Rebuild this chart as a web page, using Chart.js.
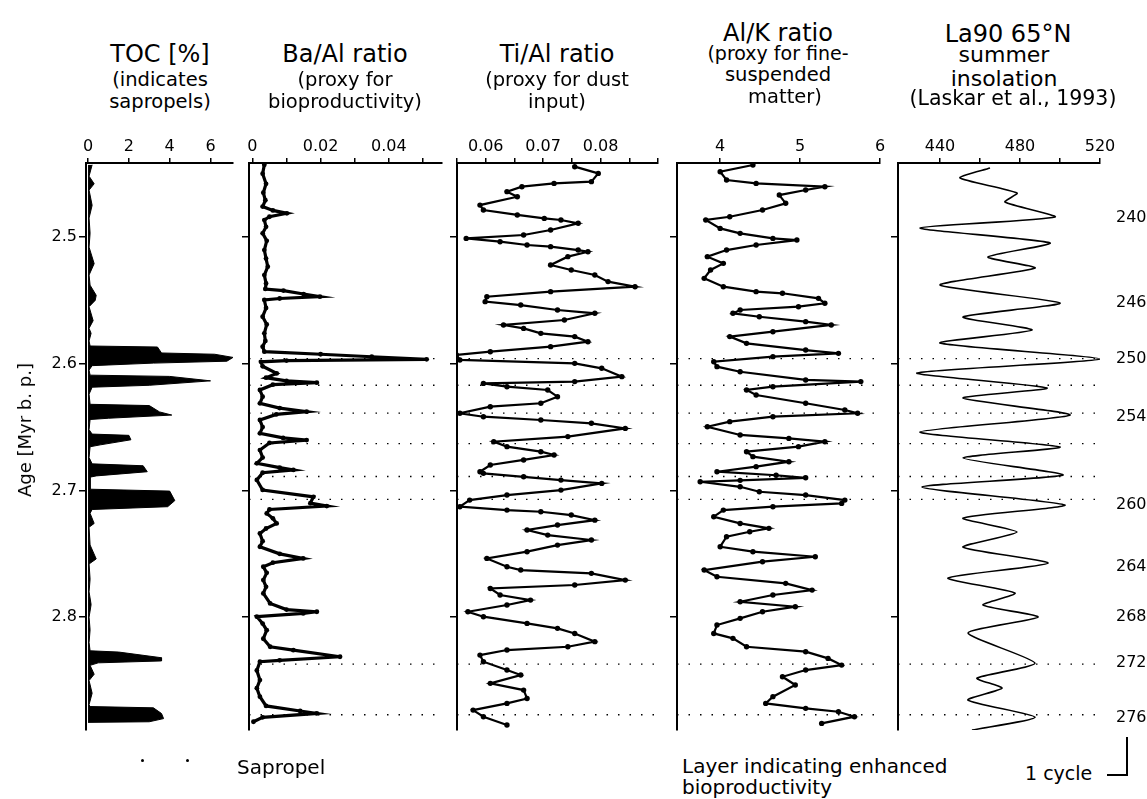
<!DOCTYPE html>
<html>
<head>
<meta charset="utf-8">
<title>Geochemical proxies and La90 insolation</title>
<script src="https://cdn.jsdelivr.net/npm/chart.js@4.4.0/dist/chart.umd.min.js"></script>
<style>
  html, body { margin: 0; padding: 0; background: #fff; }
  #page { position: relative; width: 1147px; height: 799px; overflow: hidden; background: #fff; }
  #page canvas { position: absolute; }
  .txt { position: absolute; white-space: nowrap; line-height: 1; color: #000;
         font-family: "DejaVu Sans", "Liberation Sans", sans-serif; }
  .dot { position: absolute; width: 3px; height: 3px; background: #000; border-radius: 50%; }
  .bar { position: absolute; background: #000; }
</style>
</head>
<body>
<div id="page">
  <canvas id="tocChart"></canvas>
  <canvas id="baChart"></canvas>
  <canvas id="tiChart"></canvas>
  <canvas id="alkChart"></canvas>
  <canvas id="insolChart"></canvas>
</div>
<script>
// 年代軸（Myr b.p.）
const ageTicks = [2.5, 2.6, 2.7, 2.8];
const ageTickLabels = ['2.5', '2.6', '2.7', '2.8'];

// TOC [%]
const tocAge = [2.443, 2.452, 2.458, 2.463, 2.475, 2.485, 2.497, 2.508, 2.521, 2.530,
  2.538, 2.546, 2.550, 2.555, 2.566, 2.572, 2.576, 2.582, 2.586, 2.5868,
  2.5915, 2.5925, 2.595, 2.598, 2.5995, 2.6015, 2.605, 2.609, 2.610, 2.6135,
  2.617, 2.6185, 2.624, 2.632, 2.633, 2.638, 2.6405, 2.643, 2.644, 2.652,
  2.6555, 2.6565, 2.660, 2.664, 2.6655, 2.674, 2.679, 2.6805, 2.6852, 2.6885,
  2.6895, 2.699, 2.7005, 2.708, 2.7128, 2.715, 2.718, 2.726, 2.729, 2.743,
  2.754, 2.758, 2.770, 2.780, 2.790, 2.800, 2.810, 2.820, 2.8265, 2.8275,
  2.832, 2.8345, 2.836, 2.838, 2.845, 2.850, 2.860, 2.869, 2.8705, 2.8715,
  2.876, 2.880, 2.8825, 2.883];
const tocValue = [0.2, 0.05, 0.3, 0.05, 0.2, 0.05, 0.1, 0.05, 0.3, 0.05,
  0.1, 0.4, 0.35, 0.05, 0.25, 0.05, 0.15, 0.05, 0.1, 3.4,
  3.6, 6.2, 7.1, 6.8, 3.2, 0.2, 0.05, 0.1, 4.0, 6.0,
  3.0, 0.2, 0.05, 0.1, 3.0, 3.5, 4.1, 1.0, 0.1, 0.05,
  0.2, 2.0, 2.1, 0.6, 0.1, 0.05, 0.2, 2.7, 2.9, 0.4,
  0.1, 0.1, 4.0, 4.25, 3.9, 0.2, 0.1, 0.3, 0.05, 0.1,
  0.4, 0.05, 0.1, 0.05, 0.15, 0.05, 0.1, 0.05, 0.1, 1.5,
  3.6, 3.6, 0.5, 0.1, 0.3, 0.05, 0.2, 0.05, 0.1, 3.2,
  3.6, 3.7, 3.0, 0];
const tocTicks = [0, 2, 4, 6];
const tocTickLabels = ['0', '2', '4', '6'];

// Ba/Al ratio
const baAge = [2.443, 2.450, 2.458, 2.465, 2.471, 2.476, 2.479, 2.4813, 2.484, 2.4866,
  2.492, 2.4971, 2.503, 2.5103, 2.517, 2.5234, 2.530, 2.5366, 2.541, 2.5423,
  2.545, 2.5471, 2.5485, 2.5497, 2.556, 2.5629, 2.569, 2.576, 2.582, 2.5865,
  2.5905, 2.5925, 2.5945, 2.5965, 2.5975, 2.5985, 2.602, 2.6076, 2.611, 2.6135,
  2.6149, 2.6165, 2.6207, 2.626, 2.6312, 2.635, 2.6378, 2.640, 2.6444, 2.650,
  2.6549, 2.6585, 2.6602, 2.6625, 2.6681, 2.674, 2.6786, 2.682, 2.6838, 2.686,
  2.6917, 2.6996, 2.705, 2.710, 2.7123, 2.715, 2.7181, 2.722, 2.726, 2.730,
  2.7339, 2.740, 2.7444, 2.750, 2.7536, 2.757, 2.7602, 2.765, 2.7707, 2.776,
  2.7812, 2.7891, 2.794, 2.7957, 2.797, 2.7996, 2.805, 2.8102, 2.817, 2.8233,
  2.826, 2.8312, 2.834, 2.8351, 2.842, 2.8496, 2.856, 2.8627, 2.870, 2.874,
  2.8759, 2.879, 2.8825];
const baValue = [0.0035, 0.0030, 0.0040, 0.0032, 0.0038, 0.0030, 0.0060, 0.0101, 0.0050, 0.0035,
  0.0040, 0.0030, 0.0042, 0.0035, 0.0040, 0.0045, 0.0035, 0.0040, 0.0038, 0.0091,
  0.0150, 0.0198, 0.0080, 0.0035, 0.0040, 0.0030, 0.0042, 0.0035, 0.0038, 0.0030,
  0.0035, 0.0200, 0.0350, 0.0511, 0.0100, 0.0025, 0.0030, 0.0071, 0.0040, 0.0100,
  0.0189, 0.0060, 0.0022, 0.0030, 0.0022, 0.0080, 0.0159, 0.0070, 0.0022, 0.0030,
  0.0022, 0.0090, 0.0159, 0.0050, 0.0022, 0.0030, 0.0013, 0.0080, 0.0120, 0.0030,
  0.0013, 0.0030, 0.0179, 0.0170, 0.0218, 0.0050, 0.0042, 0.0060, 0.0071, 0.0040,
  0.0022, 0.0030, 0.0022, 0.0080, 0.0149, 0.0060, 0.0032, 0.0042, 0.0032, 0.0040,
  0.0032, 0.0052, 0.0100, 0.0189, 0.0149, 0.0013, 0.0030, 0.0042, 0.0032, 0.0052,
  0.0120, 0.0257, 0.0080, 0.0022, 0.0013, 0.0022, 0.0013, 0.0022, 0.0040, 0.0140,
  0.0189, 0.0030, 0.0003];
const baTicks = [0, 0.01, 0.02, 0.03, 0.04, 0.05];
const baTickLabels = ['0', '', '0.02', '', '0.04', ''];

// Ti/Al ratio
const tiAge = [2.4445, 2.4498, 2.4563, 2.4577, 2.4603, 2.4642, 2.4682, 2.4748, 2.4787, 2.4826,
  2.4853, 2.4866, 2.4892, 2.4945, 2.4984, 2.5011, 2.5037, 2.5063, 2.5076, 2.5103,
  2.5116, 2.5155, 2.5221, 2.5260, 2.5300, 2.5352, 2.5392, 2.5431, 2.5471, 2.5510,
  2.5537, 2.5576, 2.5602, 2.5655, 2.5694, 2.5721, 2.5760, 2.5786, 2.5826, 2.5865,
  2.5905, 2.5931, 2.5970, 2.5997, 2.6036, 2.6102, 2.6141, 2.6155, 2.6181, 2.6207,
  2.6260, 2.6312, 2.6339, 2.6391, 2.6418, 2.6444, 2.6470, 2.6510, 2.6575, 2.6615,
  2.6654, 2.6694, 2.6720, 2.6759, 2.6799, 2.6852, 2.6865, 2.6892, 2.6918, 2.6944,
  2.6997, 2.7036, 2.7076, 2.7128, 2.7155, 2.7168, 2.7194, 2.7234, 2.7273, 2.7312,
  2.7352, 2.7391, 2.7431, 2.7483, 2.7536, 2.7602, 2.7628, 2.7654, 2.7707, 2.7746,
  2.7773, 2.7825, 2.7865, 2.7904, 2.7957, 2.7996, 2.8049, 2.8088, 2.8128, 2.8193,
  2.8233, 2.8259, 2.8299, 2.8351, 2.8417, 2.8456, 2.8522, 2.8575, 2.8641, 2.8680,
  2.8733, 2.8785, 2.8851];
const tiValue = [0.0755, 0.0796, 0.0784, 0.0719, 0.0663, 0.0637, 0.0655, 0.0590, 0.0596, 0.0655,
  0.0702, 0.0731, 0.0761, 0.0713, 0.0666, 0.0566, 0.0625, 0.0672, 0.0713, 0.0761,
  0.0778, 0.0743, 0.0713, 0.0749, 0.0790, 0.0813, 0.0860, 0.0713, 0.0602, 0.0599,
  0.0661, 0.0725, 0.0790, 0.0737, 0.0631, 0.0666, 0.0696, 0.0755, 0.0778, 0.0713,
  0.0608, 0.0549, 0.0555, 0.0755, 0.0802, 0.0837, 0.0755, 0.0596, 0.0637, 0.0708,
  0.0725, 0.0696, 0.0608, 0.0555, 0.0596, 0.0696, 0.0784, 0.0843, 0.0743, 0.0614,
  0.0637, 0.0696, 0.0719, 0.0666, 0.0608, 0.0590, 0.0596, 0.0666, 0.0731, 0.0802,
  0.0731, 0.0637, 0.0572, 0.0555, 0.0637, 0.0696, 0.0749, 0.0790, 0.0725, 0.0672,
  0.0708, 0.0784, 0.0725, 0.0672, 0.0602, 0.0637, 0.0661, 0.0784, 0.0843, 0.0755,
  0.0608, 0.0625, 0.0678, 0.0637, 0.0569, 0.0596, 0.0672, 0.0725, 0.0755, 0.0790,
  0.0743, 0.0637, 0.0590, 0.0596, 0.0637, 0.0661, 0.0608, 0.0666, 0.0672, 0.0637,
  0.0578, 0.0596, 0.0637];
const tiTicks = [0.055, 0.06, 0.065, 0.07, 0.075, 0.08, 0.085, 0.09];
const tiTickLabels = ['', '0.06', '', '0.07', '', '0.08', '', ''];

// Al/K ratio
const alkAge = [2.4432, 2.4485, 2.4550, 2.4577, 2.4603, 2.4629, 2.4669, 2.4734, 2.4787, 2.4840,
  2.4866, 2.4932, 2.4971, 2.5011, 2.5024, 2.5063, 2.5103, 2.5155, 2.5208, 2.5260,
  2.5326, 2.5392, 2.5431, 2.5444, 2.5484, 2.5523, 2.5550, 2.5576, 2.5602, 2.5629,
  2.5668, 2.5694, 2.5747, 2.5786, 2.5839, 2.5892, 2.5918, 2.5944, 2.5984, 2.6023,
  2.6063, 2.6128, 2.6141, 2.6181, 2.6207, 2.6247, 2.6312, 2.6365, 2.6391, 2.6418,
  2.6457, 2.6497, 2.6562, 2.6589, 2.6615, 2.6654, 2.6694, 2.6733, 2.6773, 2.6812,
  2.6852, 2.6880, 2.6900, 2.6920, 2.6931, 2.6971, 2.7010, 2.7036, 2.7076, 2.7102,
  2.7128, 2.7155, 2.7207, 2.7260, 2.7299, 2.7326, 2.7365, 2.7444, 2.7483, 2.7523,
  2.7562, 2.7628, 2.7681, 2.7733, 2.7786, 2.7825, 2.7878, 2.7917, 2.7957, 2.8009,
  2.8062, 2.8128, 2.8167, 2.8233, 2.8272, 2.8325, 2.8378, 2.8417, 2.8470, 2.8535,
  2.8627, 2.8680, 2.8719, 2.8746, 2.8785, 2.8838];
const alkValue = [4.41, 4.00, 4.08, 4.45, 5.31, 5.07, 4.74, 4.82, 4.53, 4.12,
  3.82, 4.00, 4.25, 4.66, 4.96, 4.45, 4.08, 3.84, 4.04, 3.88,
  3.80, 4.04, 4.45, 4.78, 5.23, 5.31, 4.98, 4.25, 4.16, 4.49,
  5.07, 5.39, 4.66, 4.12, 4.33, 5.07, 5.48, 4.66, 3.92, 3.96,
  4.25, 5.07, 5.76, 4.66, 4.33, 4.45, 5.07, 5.56, 5.72, 4.66,
  4.12, 3.84, 4.25, 4.86, 5.31, 4.98, 4.33, 4.41, 4.86, 4.45,
  3.96, 4.70, 5.07, 4.25, 3.75, 4.25, 4.49, 5.07, 5.56, 5.52,
  4.66, 4.04, 3.92, 4.25, 4.61, 4.37, 4.08, 4.00, 4.41, 5.19,
  4.53, 3.80, 3.96, 4.82, 5.15, 4.66, 4.25, 4.94, 4.53, 4.25,
  3.96, 3.92, 4.16, 4.33, 5.07, 5.35, 5.52, 5.07, 4.78, 4.94,
  4.66, 4.57, 5.07, 5.48, 5.68, 5.27];
const alkTicks = [4, 5, 6];
const alkTickLabels = ['4', '5', '6'];

// La90 65°N 夏季日射量
const insolAge = [2.4455, 2.4534, 2.4653, 2.4724, 2.4842, 2.4929, 2.5047, 2.5158, 2.5245, 2.5379,
  2.5521, 2.5631, 2.5734, 2.5837, 2.5963, 2.6073, 2.6192, 2.6271, 2.6405, 2.6539,
  2.6657, 2.6744, 2.6878, 2.6973, 2.7115, 2.7218, 2.7328, 2.7447, 2.7573, 2.7691,
  2.7810, 2.7904, 2.7999, 2.8125, 2.8362, 2.8481, 2.8560, 2.8654, 2.8789, 2.8891];
const insolValue = [465, 450, 478.5, 472.5, 497.5, 430, 495, 464, 487.5, 440,
  500, 451.5, 486, 440, 520, 428.5, 493.5, 451.5, 505, 430,
  500, 451.5, 501.5, 431, 502.5, 451.5, 478.5, 451.5, 494, 444,
  477.5, 461.5, 489, 454, 487.5, 458.5, 471, 454, 487.5, 456];
const insolTicks = [440, 460, 480, 500, 520];
const insolTickLabels = ['440', '', '480', '', '520'];

// サプロペル層（点線）
const sapropelAges = [2.596, 2.617, 2.639, 2.663, 2.689, 2.707, 2.837, 2.877];

// i-cycle 番号
const cycleAges = [2.485, 2.552, 2.5963, 2.642, 2.7115, 2.7605, 2.800, 2.8362, 2.8797];
const cycleLabels = ['240', '246', '250', '254', '260', '264', '268', '272', '276'];

// ---- レイアウト ----
const AGE_MIN = 2.4416;
const AGE_MAX = 2.889;
const AREA_TOP = 163;
const AREA_BOTTOM = 730;
const PAD_TOP = 40;
const PAD_BOTTOM = 18;
const FONT = 'DejaVu Sans';

Chart.defaults.font.family = FONT;
Chart.defaults.color = '#000';

function toPoints(ages, values) {
  return ages.map((a, i) => ({ x: values[i], y: a }));
}

function sapropelLines(xMin, xMax) {
  return sapropelAges.map(a => ({
    data: [{ x: xMin, y: a }, { x: xMax, y: a }],
    borderColor: '#000',
    borderWidth: 1.4,
    borderDash: [1.5, 10],
    pointRadius: 0,
    fill: false
  }));
}

function xAxis(min, max, ticks, labels) {
  return {
    type: 'linear',
    position: 'top',
    min: min,
    max: max,
    afterBuildTicks: s => { s.ticks = ticks.map(v => ({ value: v })); },
    afterFit: s => { s.height = PAD_TOP; },
    ticks: {
      autoSkip: false,
      maxRotation: 0,
      padding: 2,
      font: { size: 16 },
      color: '#000',
      callback: (v, i) => labels[i]
    },
    grid: { display: true, drawOnChartArea: false, drawTicks: true, tickLength: 5, color: '#000', lineWidth: 1.5 },
    border: { display: true, color: '#000', width: 2 }
  };
}

function yAxis(padL, showLabels) {
  return {
    type: 'linear',
    position: 'left',
    reverse: true,
    min: AGE_MIN,
    max: AGE_MAX,
    afterBuildTicks: s => { s.ticks = ageTicks.map(v => ({ value: v })); },
    afterFit: s => { s.width = padL; },
    ticks: {
      display: showLabels,
      autoSkip: false,
      padding: 2,
      font: { size: 16 },
      color: '#000',
      callback: (v, i) => ageTickLabels[i]
    },
    grid: { display: true, drawOnChartArea: false, drawTicks: true, tickLength: 7, color: '#000', lineWidth: 1.5 },
    border: { display: true, color: '#000', width: 2 }
  };
}

function makePanel(canvasId, areaLeft, areaRight, padL, padR, scales, datasets, rightAxisInside) {
  const canvas = document.getElementById(canvasId);
  const w = padL + (areaRight - areaLeft) + padR;
  const h = PAD_TOP + (AREA_BOTTOM - AREA_TOP) + PAD_BOTTOM;
  canvas.width = w;
  canvas.height = h;
  canvas.style.width = w + 'px';
  canvas.style.height = h + 'px';
  canvas.style.left = (areaLeft - padL) + 'px';
  canvas.style.top = (AREA_TOP - PAD_TOP) + 'px';

  return new Chart(canvas, {
    type: 'line',
    data: { datasets: datasets },
    options: {
      indexAxis: 'y',
      responsive: false,
      animation: false,
      events: [],
      layout: { padding: { left: 0, top: 0, right: rightAxisInside ? 0 : padR, bottom: PAD_BOTTOM } },
      plugins: { legend: { display: false }, tooltip: { enabled: false } },
      elements: { line: { tension: 0 } },
      scales: scales
    }
  });
}

// TOC
makePanel('tocChart', 86, 233, 86, 8, {
  x: xAxis(-0.1, 7.1, tocTicks, tocTickLabels),
  y: yAxis(86, true)
}, [{
  data: toPoints(tocAge, tocValue),
  borderColor: '#000',
  backgroundColor: '#000',
  borderWidth: 1,
  pointRadius: 0,
  fill: 'origin'
}]);

// Ba/Al
makePanel('baChart', 249, 442, 20, 8, {
  x: xAxis(-0.001, 0.0556, baTicks, baTickLabels),
  y: yAxis(20, false)
}, [{
  data: toPoints(baAge, baValue),
  borderColor: '#000',
  borderWidth: 3.2,
  pointRadius: 2.4,
  pointBackgroundColor: '#000',
  pointBorderWidth: 0,
  fill: false
}].concat(sapropelLines(-0.001, 0.0556)));

// Ti/Al
makePanel('tiChart', 457, 658, 20, 8, {
  x: xAxis(0.055, 0.09, tiTicks, tiTickLabels),
  y: yAxis(20, false)
}, [{
  data: toPoints(tiAge, tiValue),
  borderColor: '#000',
  borderWidth: 2.2,
  pointRadius: 2.7,
  pointBackgroundColor: '#000',
  pointBorderWidth: 0,
  fill: false
}].concat(sapropelLines(0.055, 0.09)));

// Al/K
makePanel('alkChart', 677, 880, 20, 8, {
  x: xAxis(3.46, 6.0, alkTicks, alkTickLabels),
  y: yAxis(20, false)
}, [{
  data: toPoints(alkAge, alkValue),
  borderColor: '#000',
  borderWidth: 2.2,
  pointRadius: 2.7,
  pointBackgroundColor: '#000',
  pointBorderWidth: 0,
  fill: false
}].concat(sapropelLines(3.46, 6.0)));

// La90 日射量 + i-cycle 番号（右軸）
makePanel('insolChart', 898, 1100, 20, 47, {
  x: xAxis(419, 520, insolTicks, insolTickLabels),
  y: yAxis(20, false),
  yc: {
    type: 'linear',
    position: 'right',
    reverse: true,
    min: AGE_MIN,
    max: AGE_MAX,
    afterBuildTicks: s => { s.ticks = cycleAges.map(v => ({ value: v })); },
    afterFit: s => { s.width = 47; },
    ticks: {
      autoSkip: false,
      padding: 8,
      font: { size: 16 },
      color: '#000',
      callback: (v, i) => cycleLabels[i]
    },
    grid: { display: false },
    border: { display: false }
  }
}, [{
  data: toPoints(insolAge, insolValue),
  borderColor: '#000',
  borderWidth: 1.6,
  pointRadius: 0,
  tension: 0.2,
  fill: false
}].concat(sapropelLines(419, 520)), true);

// ---- 見出し・凡例 ----
const page = document.getElementById('page');

function addText(str, x, baseline, size, align) {
  const el = document.createElement('div');
  el.className = 'txt';
  el.textContent = str;
  el.style.fontSize = size + 'px';
  el.style.top = (baseline - 0.846 * size) + 'px';
  el.style.left = x + 'px';
  if (align === 'center') el.style.transform = 'translateX(-50%)';
  page.appendChild(el);
  return el;
}

const headers = [
  ['TOC [%]', 160, 62, 24], ['(indicates', 160, 86, 19.5], ['sapropels)', 160, 108, 19.5],
  ['Ba/Al ratio', 345, 62, 24], ['(proxy for', 345, 86, 19.5], ['bioproductivity)', 345, 108, 19.5],
  ['Ti/Al ratio', 557, 62, 24], ['(proxy for dust', 557, 86, 19.5], ['input)', 557, 108, 19.5],
  ['Al/K ratio', 778, 41, 24], ['(proxy for fine-', 778, 60, 19], ['suspended', 778, 81, 19.5], ['matter)', 785, 103, 19.5],
  ['La90 65°N', 1008, 42, 24], ['summer', 1004, 63, 22], ['insolation', 1004, 87, 22], ['(Laskar et al., 1993)', 1013, 105, 20.5]
];
headers.forEach(h => addText(h[0], h[1], h[2], h[3], 'center'));

// 縦軸タイトル
const yTitle = addText('Age [Myr b. p.]', 25, 430, 18, 'left');
yTitle.style.top = '430px';
yTitle.style.transform = 'translate(-50%, -50%) rotate(-90deg)';

// 凡例
addText('Sapropel', 237, 774, 20, 'left');
[142, 187].forEach(x => {
  const d = document.createElement('div');
  d.className = 'dot';
  d.style.left = (x - 1.5) + 'px';
  d.style.top = '759px';
  page.appendChild(d);
});
addText('Layer indicating enhanced', 682, 773, 20, 'left');
addText('bioproductivity', 682, 794, 20, 'left');
addText('1 cycle', 1025, 780, 19, 'left');

// 1 cycle スケール
const vbar = document.createElement('div');
vbar.className = 'bar';
Object.assign(vbar.style, { left: '1126px', top: '737px', width: '2px', height: '39px' });
page.appendChild(vbar);
const hbar = document.createElement('div');
hbar.className = 'bar';
Object.assign(hbar.style, { left: '1107px', top: '774px', width: '21px', height: '2px' });
page.appendChild(hbar);
</script>
</body>
</html>
